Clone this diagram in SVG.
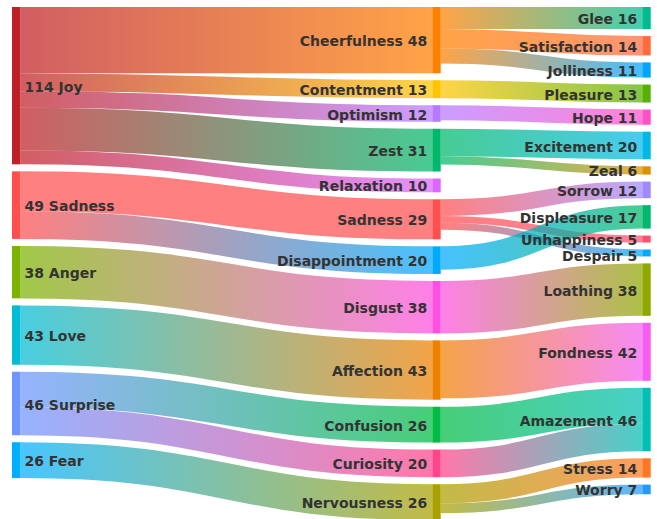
<svg xmlns="http://www.w3.org/2000/svg" width="657" height="519" viewBox="0 0 657 519">
<style>
.link{fill:none;stroke-opacity:0.72}
.node text{font-family:"DejaVu Sans","Liberation Sans",sans-serif;font-weight:bold;font-size:14px;fill:#333}
.start text{text-anchor:start}
.end text{text-anchor:end}
</style>
<defs>
<linearGradient id="gL1" gradientUnits="userSpaceOnUse" x1="20.4" x2="432.3"><stop offset="0" stop-color="#bf2026"/><stop offset="1" stop-color="#ff8000"/></linearGradient>
<linearGradient id="gL2" gradientUnits="userSpaceOnUse" x1="20.4" x2="432.3"><stop offset="0" stop-color="#bf2026"/><stop offset="1" stop-color="#ffc400"/></linearGradient>
<linearGradient id="gL3" gradientUnits="userSpaceOnUse" x1="20.4" x2="432.3"><stop offset="0" stop-color="#bf2026"/><stop offset="1" stop-color="#b877ff"/></linearGradient>
<linearGradient id="gL4" gradientUnits="userSpaceOnUse" x1="20.4" x2="432.3"><stop offset="0" stop-color="#bf2026"/><stop offset="1" stop-color="#00b86b"/></linearGradient>
<linearGradient id="gL5" gradientUnits="userSpaceOnUse" x1="20.4" x2="432.3"><stop offset="0" stop-color="#bf2026"/><stop offset="1" stop-color="#dd66ff"/></linearGradient>
<linearGradient id="gL6" gradientUnits="userSpaceOnUse" x1="20.4" x2="432.3"><stop offset="0" stop-color="#ff4f4f"/><stop offset="1" stop-color="#ff4f4f"/></linearGradient>
<linearGradient id="gL7" gradientUnits="userSpaceOnUse" x1="20.4" x2="432.3"><stop offset="0" stop-color="#ff4f4f"/><stop offset="1" stop-color="#00aaff"/></linearGradient>
<linearGradient id="gL8" gradientUnits="userSpaceOnUse" x1="20.4" x2="432.3"><stop offset="0" stop-color="#7cb300"/><stop offset="1" stop-color="#ff4fe0"/></linearGradient>
<linearGradient id="gL9" gradientUnits="userSpaceOnUse" x1="20.4" x2="432.3"><stop offset="0" stop-color="#00bcd4"/><stop offset="1" stop-color="#ee8000"/></linearGradient>
<linearGradient id="gL10" gradientUnits="userSpaceOnUse" x1="20.4" x2="432.3"><stop offset="0" stop-color="#6e95ff"/><stop offset="1" stop-color="#00bb44"/></linearGradient>
<linearGradient id="gL11" gradientUnits="userSpaceOnUse" x1="20.4" x2="432.3"><stop offset="0" stop-color="#6e95ff"/><stop offset="1" stop-color="#ff4488"/></linearGradient>
<linearGradient id="gL12" gradientUnits="userSpaceOnUse" x1="20.4" x2="432.3"><stop offset="0" stop-color="#00b0ff"/><stop offset="1" stop-color="#aaa000"/></linearGradient>
<linearGradient id="gR1" gradientUnits="userSpaceOnUse" x1="440.7" x2="642.3"><stop offset="0" stop-color="#ff8000"/><stop offset="1" stop-color="#00bb90"/></linearGradient>
<linearGradient id="gR2" gradientUnits="userSpaceOnUse" x1="440.7" x2="642.3"><stop offset="0" stop-color="#ff8000"/><stop offset="1" stop-color="#ff6b3d"/></linearGradient>
<linearGradient id="gR3" gradientUnits="userSpaceOnUse" x1="440.7" x2="642.3"><stop offset="0" stop-color="#ff8000"/><stop offset="1" stop-color="#00a5ff"/></linearGradient>
<linearGradient id="gR4" gradientUnits="userSpaceOnUse" x1="440.7" x2="642.3"><stop offset="0" stop-color="#ffc400"/><stop offset="1" stop-color="#55b000"/></linearGradient>
<linearGradient id="gR5" gradientUnits="userSpaceOnUse" x1="440.7" x2="642.3"><stop offset="0" stop-color="#b877ff"/><stop offset="1" stop-color="#ff50c8"/></linearGradient>
<linearGradient id="gR6" gradientUnits="userSpaceOnUse" x1="440.7" x2="642.3"><stop offset="0" stop-color="#00b86b"/><stop offset="1" stop-color="#00b8e6"/></linearGradient>
<linearGradient id="gR7" gradientUnits="userSpaceOnUse" x1="440.7" x2="642.3"><stop offset="0" stop-color="#00b86b"/><stop offset="1" stop-color="#dd9000"/></linearGradient>
<linearGradient id="gR8" gradientUnits="userSpaceOnUse" x1="440.7" x2="642.3"><stop offset="0" stop-color="#ff4f4f"/><stop offset="1" stop-color="#a088ff"/></linearGradient>
<linearGradient id="gR9" gradientUnits="userSpaceOnUse" x1="440.7" x2="642.3"><stop offset="0" stop-color="#ff4f4f"/><stop offset="1" stop-color="#ff4f6f"/></linearGradient>
<linearGradient id="gR10" gradientUnits="userSpaceOnUse" x1="440.7" x2="642.3"><stop offset="0" stop-color="#ff4f4f"/><stop offset="1" stop-color="#00aaff"/></linearGradient>
<linearGradient id="gR11" gradientUnits="userSpaceOnUse" x1="440.7" x2="642.3"><stop offset="0" stop-color="#00aaff"/><stop offset="1" stop-color="#00b86b"/></linearGradient>
<linearGradient id="gR12" gradientUnits="userSpaceOnUse" x1="440.7" x2="642.3"><stop offset="0" stop-color="#ff4fe0"/><stop offset="1" stop-color="#8fa800"/></linearGradient>
<linearGradient id="gR13" gradientUnits="userSpaceOnUse" x1="440.7" x2="642.3"><stop offset="0" stop-color="#ee8000"/><stop offset="1" stop-color="#f55cf0"/></linearGradient>
<linearGradient id="gR14" gradientUnits="userSpaceOnUse" x1="440.7" x2="642.3"><stop offset="0" stop-color="#00bb44"/><stop offset="1" stop-color="#00bfb3"/></linearGradient>
<linearGradient id="gR15" gradientUnits="userSpaceOnUse" x1="440.7" x2="642.3"><stop offset="0" stop-color="#ff4488"/><stop offset="1" stop-color="#00bfb3"/></linearGradient>
<linearGradient id="gR16" gradientUnits="userSpaceOnUse" x1="440.7" x2="642.3"><stop offset="0" stop-color="#aaa000"/><stop offset="1" stop-color="#ff7722"/></linearGradient>
<linearGradient id="gR17" gradientUnits="userSpaceOnUse" x1="440.7" x2="642.3"><stop offset="0" stop-color="#aaa000"/><stop offset="1" stop-color="#2299ff"/></linearGradient>
</defs>
<g id="links">
<path class="link" stroke="url(#gL1)" stroke-width="66.24" d="M20.4,40.12C226.35,40.12 226.35,40.12 432.3,40.12"/>
<path class="link" stroke="url(#gL2)" stroke-width="17.94" d="M20.4,82.21C226.35,82.21 226.35,89.21 432.3,89.21"/>
<path class="link" stroke="url(#gL3)" stroke-width="16.56" d="M20.4,99.46C226.35,99.46 226.35,113.46 432.3,113.46"/>
<path class="link" stroke="url(#gL4)" stroke-width="42.78" d="M20.4,129.13C226.35,129.13 226.35,150.13 432.3,150.13"/>
<path class="link" stroke="url(#gL5)" stroke-width="13.8" d="M20.4,157.42C226.35,157.42 226.35,185.42 432.3,185.42"/>
<path class="link" stroke="url(#gL6)" stroke-width="40.02" d="M20.4,191.33C226.35,191.33 226.35,219.33 432.3,219.33"/>
<path class="link" stroke="url(#gL7)" stroke-width="27.6" d="M20.4,225.14C226.35,225.14 226.35,260.14 432.3,260.14"/>
<path class="link" stroke="url(#gL8)" stroke-width="52.44" d="M20.4,272.16C226.35,272.16 226.35,307.16 432.3,307.16"/>
<path class="link" stroke="url(#gL9)" stroke-width="59.34" d="M20.4,335.05C226.35,335.05 226.35,370.05 432.3,370.05"/>
<path class="link" stroke="url(#gL10)" stroke-width="35.88" d="M20.4,389.66C226.35,389.66 226.35,424.66 432.3,424.66"/>
<path class="link" stroke="url(#gL11)" stroke-width="27.6" d="M20.4,421.4C226.35,421.4 226.35,463.4 432.3,463.4"/>
<path class="link" stroke="url(#gL12)" stroke-width="35.88" d="M20.4,460.14C226.35,460.14 226.35,502.14 432.3,502.14"/>
<path class="link" stroke="url(#gR1)" stroke-width="22.08" d="M440.7,18.04C541.5,18.04 541.5,18.04 642.3,18.04"/>
<path class="link" stroke="url(#gR2)" stroke-width="19.32" d="M440.7,38.74C541.5,38.74 541.5,45.74 642.3,45.74"/>
<path class="link" stroke="url(#gR3)" stroke-width="15.18" d="M440.7,55.99C541.5,55.99 541.5,69.99 642.3,69.99"/>
<path class="link" stroke="url(#gR4)" stroke-width="17.94" d="M440.7,89.21C541.5,89.21 541.5,93.55 642.3,93.55"/>
<path class="link" stroke="url(#gR5)" stroke-width="15.18" d="M440.7,112.77C541.5,112.77 541.5,117.11 642.3,117.11"/>
<path class="link" stroke="url(#gR6)" stroke-width="27.6" d="M440.7,142.54C541.5,142.54 541.5,145.5 642.3,145.5"/>
<path class="link" stroke="url(#gR7)" stroke-width="8.28" d="M440.7,160.48C541.5,160.48 541.5,170.44 642.3,170.44"/>
<path class="link" stroke="url(#gR8)" stroke-width="16.56" d="M440.7,207.6C541.5,207.6 541.5,189.86 642.3,189.86"/>
<path class="link" stroke="url(#gR9)" stroke-width="6.9" d="M440.7,219.33C541.5,219.33 541.5,239.05 642.3,239.05"/>
<path class="link" stroke="url(#gR10)" stroke-width="6.9" d="M440.7,226.23C541.5,226.23 541.5,252.95 642.3,252.95"/>
<path class="link" stroke="url(#gR11)" stroke-width="23.46" d="M440.7,258.07C541.5,258.07 541.5,216.87 642.3,216.87"/>
<path class="link" stroke="url(#gR12)" stroke-width="52.44" d="M440.7,307.16C541.5,307.16 541.5,289.62 642.3,289.62"/>
<path class="link" stroke="url(#gR13)" stroke-width="57.96" d="M440.7,369.36C541.5,369.36 541.5,351.82 642.3,351.82"/>
<path class="link" stroke="url(#gR14)" stroke-width="35.88" d="M440.7,424.66C541.5,424.66 541.5,405.74 642.3,405.74"/>
<path class="link" stroke="url(#gR15)" stroke-width="27.6" d="M440.7,463.4C541.5,463.4 541.5,437.48 642.3,437.48"/>
<path class="link" stroke="url(#gR16)" stroke-width="19.32" d="M440.7,493.86C541.5,493.86 541.5,467.94 642.3,467.94"/>
<path class="link" stroke="url(#gR17)" stroke-width="9.66" d="M440.7,508.35C541.5,508.35 541.5,489.43 642.3,489.43"/>
</g>
<g id="node-joy" class="node start"><rect x="12" y="7" width="8.4" height="157.32" fill="#bf2026"/><text x="24.5" y="91.7">114 Joy</text></g>
<g id="node-sadness-source" class="node start"><rect x="12" y="171.32" width="8.4" height="67.62" fill="#ff4f4f"/><text x="24.5" y="211.1">49 Sadness</text></g>
<g id="node-anger" class="node start"><rect x="12" y="245.94" width="8.4" height="52.44" fill="#7cb300"/><text x="24.5" y="278.2">38 Anger</text></g>
<g id="node-love" class="node start"><rect x="12" y="305.38" width="8.4" height="59.34" fill="#00bcd4"/><text x="24.5" y="341.1">43 Love</text></g>
<g id="node-surprise" class="node start"><rect x="12" y="371.72" width="8.4" height="63.48" fill="#6e95ff"/><text x="24.5" y="409.5">46 Surprise</text></g>
<g id="node-fear" class="node start"><rect x="12" y="442.2" width="8.4" height="35.88" fill="#00b0ff"/><text x="24.5" y="466.1">26 Fear</text></g>
<g id="node-cheerfulness" class="node end"><rect x="432.3" y="7" width="8.4" height="66.24" fill="#ff8000"/><text x="427.3" y="46.1">Cheerfulness 48</text></g>
<g id="node-contentment" class="node end"><rect x="432.3" y="80.24" width="8.4" height="17.94" fill="#ffc400"/><text x="427.3" y="95.2">Contentment 13</text></g>
<g id="node-optimism" class="node end"><rect x="432.3" y="105.18" width="8.4" height="16.56" fill="#b877ff"/><text x="427.3" y="119.5">Optimism 12</text></g>
<g id="node-zest" class="node end"><rect x="432.3" y="128.74" width="8.4" height="42.78" fill="#00b86b"/><text x="427.3" y="156.1">Zest 31</text></g>
<g id="node-relaxation" class="node end"><rect x="432.3" y="178.52" width="8.4" height="13.8" fill="#dd66ff"/><text x="427.3" y="191.4">Relaxation 10</text></g>
<g id="node-sadness-mid" class="node end"><rect x="432.3" y="199.32" width="8.4" height="40.02" fill="#ff4f4f"/><text x="427.3" y="225.3">Sadness 29</text></g>
<g id="node-disappointment" class="node end"><rect x="432.3" y="246.34" width="8.4" height="27.6" fill="#00aaff"/><text x="427.3" y="266.1">Disappointment 20</text></g>
<g id="node-disgust" class="node end"><rect x="432.3" y="280.94" width="8.4" height="52.44" fill="#ff4fe0"/><text x="427.3" y="313.2">Disgust 38</text></g>
<g id="node-affection" class="node end"><rect x="432.3" y="340.38" width="8.4" height="59.34" fill="#ee8000"/><text x="427.3" y="376.1">Affection 43</text></g>
<g id="node-confusion" class="node end"><rect x="432.3" y="406.72" width="8.4" height="35.88" fill="#00bb44"/><text x="427.3" y="430.7">Confusion 26</text></g>
<g id="node-curiosity" class="node end"><rect x="432.3" y="449.6" width="8.4" height="27.6" fill="#ff4488"/><text x="427.3" y="469.4">Curiosity 20</text></g>
<g id="node-nervousness" class="node end"><rect x="432.3" y="484.2" width="8.4" height="35.88" fill="#aaa000"/><text x="427.3" y="508.1">Nervousness 26</text></g>
<g id="node-glee" class="node end"><rect x="642.3" y="7" width="8.4" height="22.08" fill="#00bb90"/><text x="637.3" y="24">Glee 16</text></g>
<g id="node-satisfaction" class="node end"><rect x="642.3" y="36.08" width="8.4" height="19.32" fill="#ff6b3d"/><text x="637.3" y="51.7">Satisfaction 14</text></g>
<g id="node-jolliness" class="node end"><rect x="642.3" y="62.4" width="8.4" height="15.18" fill="#00a5ff"/><text x="637.3" y="76">Jolliness 11</text></g>
<g id="node-pleasure" class="node end"><rect x="642.3" y="84.58" width="8.4" height="17.94" fill="#55b000"/><text x="637.3" y="99.6">Pleasure 13</text></g>
<g id="node-hope" class="node end"><rect x="642.3" y="109.52" width="8.4" height="15.18" fill="#ff50c8"/><text x="637.3" y="123.1">Hope 11</text></g>
<g id="node-excitement" class="node end"><rect x="642.3" y="131.7" width="8.4" height="27.6" fill="#00b8e6"/><text x="637.3" y="151.5">Excitement 20</text></g>
<g id="node-zeal" class="node end"><rect x="642.3" y="166.3" width="8.4" height="8.28" fill="#dd9000"/><text x="637.3" y="176.4">Zeal 6</text></g>
<g id="node-sorrow" class="node end"><rect x="642.3" y="181.58" width="8.4" height="16.56" fill="#a088ff"/><text x="637.3" y="195.9">Sorrow 12</text></g>
<g id="node-displeasure" class="node end"><rect x="642.3" y="205.14" width="8.4" height="23.46" fill="#00b86b"/><text x="637.3" y="222.9">Displeasure 17</text></g>
<g id="node-unhappiness" class="node end"><rect x="642.3" y="235.6" width="8.4" height="6.9" fill="#ff4f6f"/><text x="637.3" y="245.1">Unhappiness 5</text></g>
<g id="node-despair" class="node end"><rect x="642.3" y="249.5" width="8.4" height="6.9" fill="#00aaff"/><text x="637.3" y="261">Despair 5</text></g>
<g id="node-loathing" class="node end"><rect x="642.3" y="263.4" width="8.4" height="52.44" fill="#8fa800"/><text x="637.3" y="295.6">Loathing 38</text></g>
<g id="node-fondness" class="node end"><rect x="642.3" y="322.84" width="8.4" height="57.96" fill="#f55cf0"/><text x="637.3" y="357.8">Fondness 42</text></g>
<g id="node-amazement" class="node end"><rect x="642.3" y="387.8" width="8.4" height="63.48" fill="#00bfb3"/><text x="637.3" y="425.5">Amazement 46</text></g>
<g id="node-stress" class="node end"><rect x="642.3" y="458.28" width="8.4" height="19.32" fill="#ff7722"/><text x="637.3" y="473.9">Stress 14</text></g>
<g id="node-worry" class="node end"><rect x="642.3" y="484.6" width="8.4" height="9.66" fill="#2299ff"/><text x="637.3" y="495.4">Worry 7</text></g>
</svg>
